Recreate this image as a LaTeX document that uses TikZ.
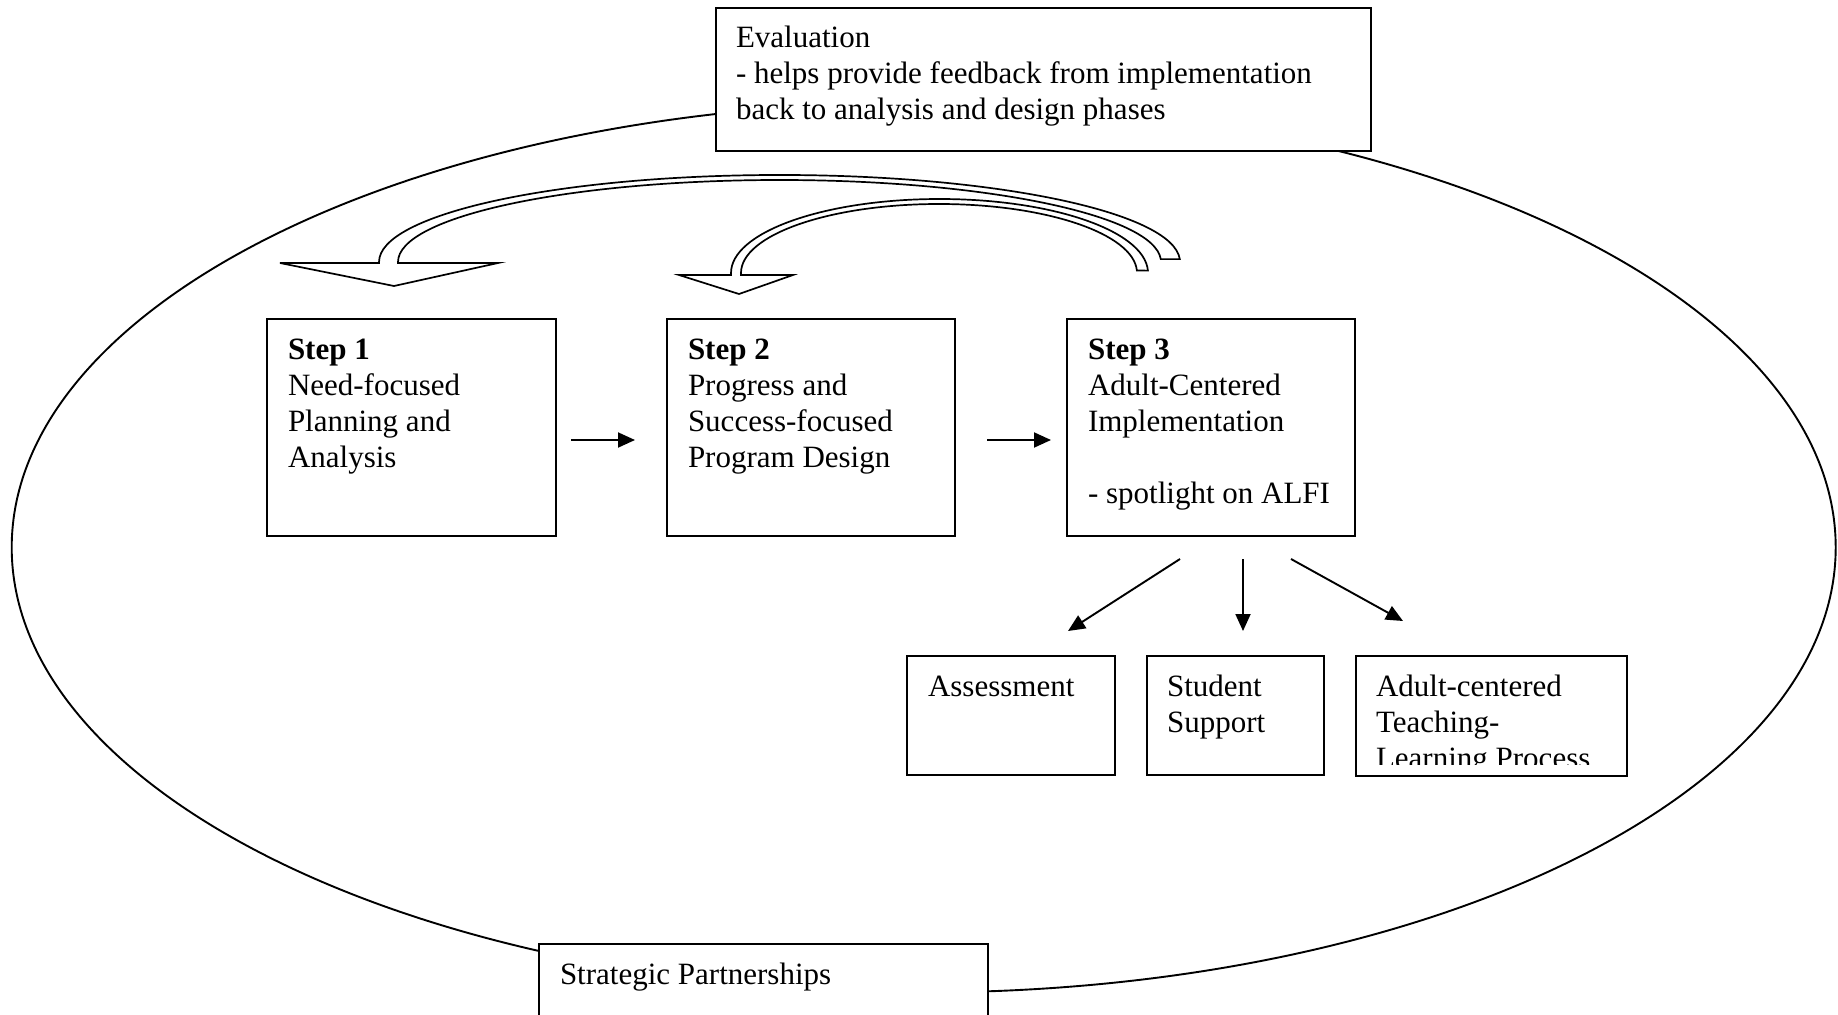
\documentclass[tikz,border=0pt]{standalone}
\usepackage{fontspec}
\setmainfont{Liberation Serif}
\usetikzlibrary{arrows.meta,calc}
\begin{document}
\begin{tikzpicture}[x=1pt,y=-1pt,
  every node/.style={inner sep=0pt,outer sep=0pt},
  boxnode/.style={draw,line width=1.9pt,fill=white,anchor=north west},
  txt/.style={anchor=north west,align=left,font=\fontsize{31}{36}\selectfont},
  conn/.style={line width=1.9pt,-{Triangle[length=17pt,width=15pt]}},
  frame/.style={line width=1.9pt},
  blockarrow/.style={line width=1.7pt,fill=white,line join=miter}]
\useasboundingbox (0,0) rectangle (1838,1014);
\clip (0,0) rectangle (1838,1014);
% outer ellipse
\draw[frame] (923.7,547.4) ellipse [x radius=912,y radius=445];
% curved block arrows (feedback)
\draw[blockarrow] (379,263) -- (280,263) -- (394,286) -- (498,263) -- (398,263) -- (398,262)
  arc[start angle=180,end angle=358,x radius=381.5,y radius=82]
  -- (1179.8,259.1)
  arc[start angle=358.1,end angle=180,x radius=400.5,y radius=87] -- cycle;
\draw[blockarrow] (731,275) -- (679,275) -- (739,294) -- (793,275) -- (741,275) -- (741,273)
  arc[start angle=180,end angle=358,x radius=198,y radius=69]
  -- (1147.9,270.6)
  arc[start angle=358.14,end angle=180,x radius=208.5,y radius=74] -- cycle;
% evaluation box
\node[boxnode,minimum width=655pt,minimum height=143pt] (eval) at (716,8) {};
\node[txt] (evalt) at ($(eval.north west)+(20,14.8)$) {\strut Evaluation\\- helps provide feedback from implementation\\back to analysis and design phases};
% steps
\node[boxnode,minimum width=289pt,minimum height=217pt] (s1) at (267,319) {};
\node[txt] (s1t) at ($(s1.north west)+(21,14.8)$) {\strut\textbf{Step 1}\\Need-focused\\Planning and\\Analysis};
\node[boxnode,minimum width=288pt,minimum height=217pt] (s2) at (667,319) {};
\node[txt] (s2t) at ($(s2.north west)+(21,14.8)$) {\strut\textbf{Step 2}\\Progress and\\Success-focused\\Program Design};
\node[boxnode,minimum width=288pt,minimum height=217pt] (s3) at (1067,319) {};
\node[txt] (s3t) at ($(s3.north west)+(21,14.8)$) {\strut\textbf{Step 3}\\Adult-Centered\\Implementation\\\strut\\- spotlight on ALFI};
% sub boxes
\node[boxnode,minimum width=208pt,minimum height=119pt] (as) at (907,656) {};
\node[txt] (ast) at ($(as.north west)+(21,14.8)$) {\strut Assessment};
\node[boxnode,minimum width=177pt,minimum height=119pt] (ss) at (1147,656) {};
\node[txt] (sst) at ($(ss.north west)+(20,14.8)$) {\strut Student\\Support};
\node[boxnode,minimum width=271pt,minimum height=120pt] (ad) at (1356,656) {};
\begin{scope}
\clip (1356,656) rectangle (1627,764);
\node[txt] (adt) at ($(ad.north west)+(20,14.8)$) {\strut Adult-centered\\Teaching-\\Learning Process};
\end{scope}
% strategic partnerships
\node[boxnode,minimum width=449pt,minimum height=120pt] (sp) at (539,944) {};
\node[txt] (spt) at ($(sp.north west)+(21,14.8)$) {\strut Strategic Partnerships};
% connectors
\draw[conn] ($(s1.east)+(15,12.5)$) -- ($(s2.west)+(-32,12.5)$);
\draw[conn] ($(s2.east)+(32,12.5)$) -- ($(s3.west)+(-16,12.5)$);
\draw[conn] ($(s3.south)+(-31,23)$) -- ($(as.north)+(57,-25)$);
\draw[conn] ($(s3.south)+(32,23)$) -- ($(ss.north)+(7.5,-25)$);
\draw[conn] ($(s3.south)+(80,23)$) -- ($(ad.north)+(-88.5,-35)$);
\end{tikzpicture}
\end{document}
